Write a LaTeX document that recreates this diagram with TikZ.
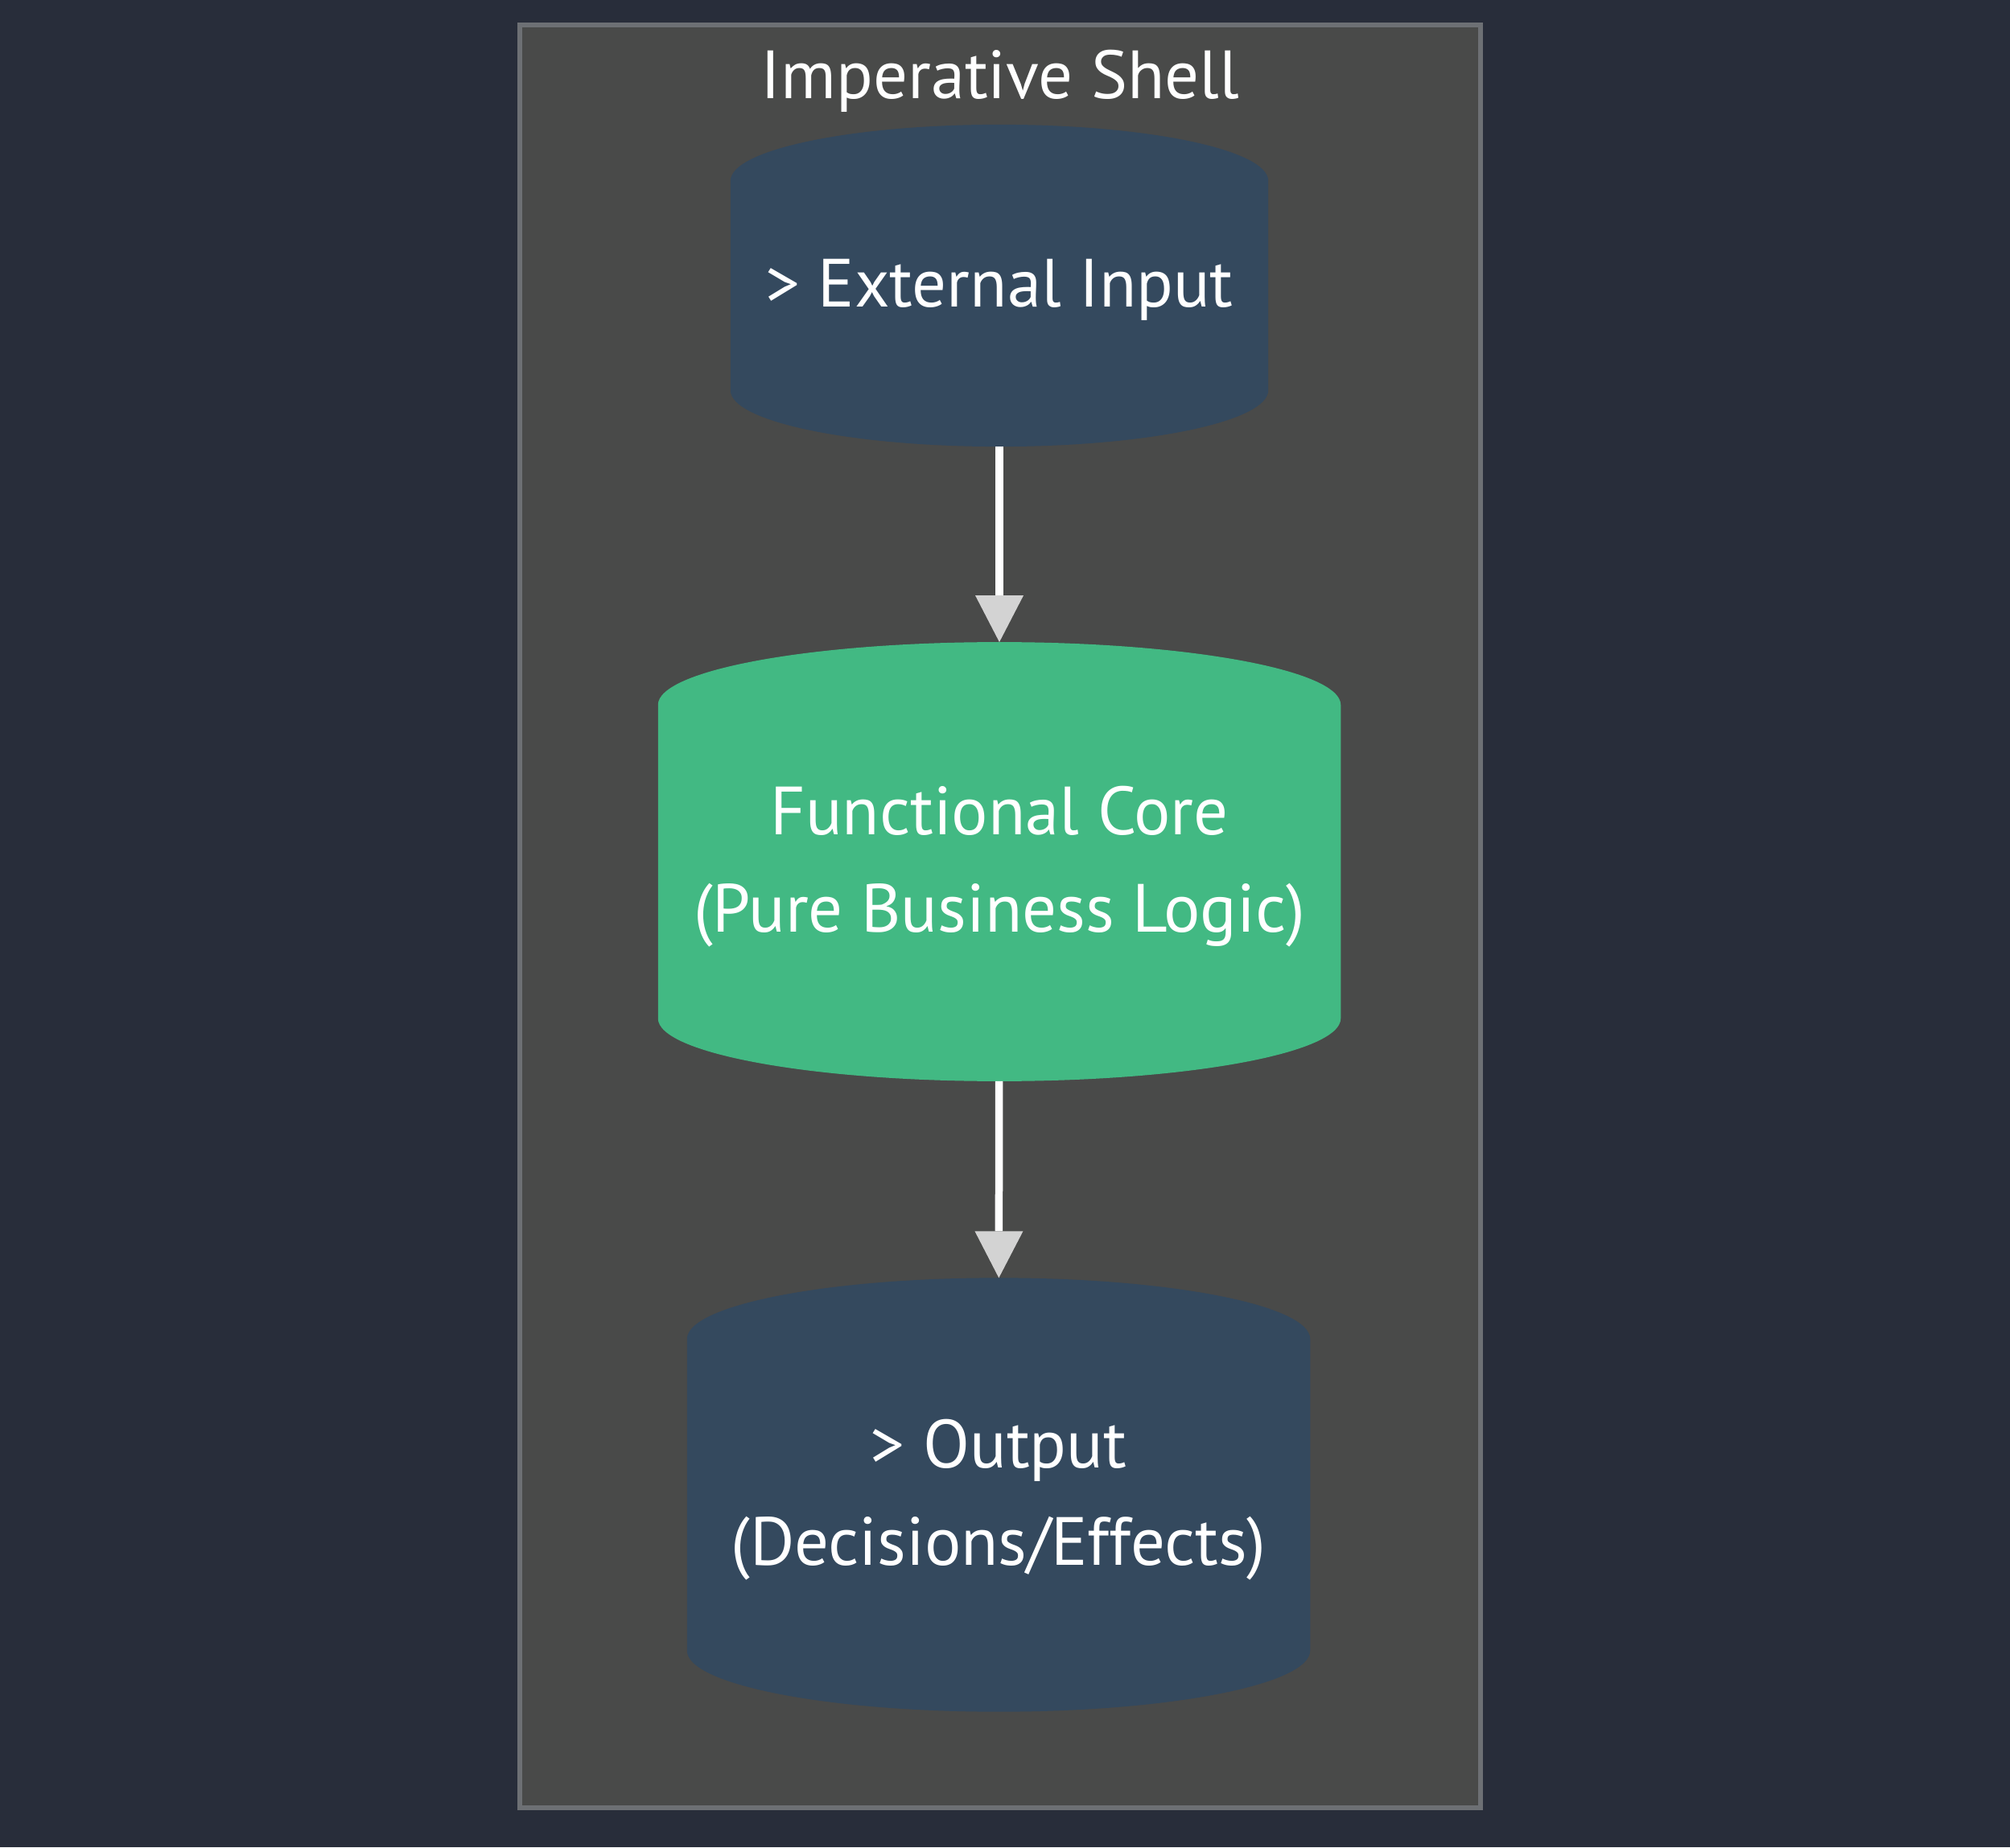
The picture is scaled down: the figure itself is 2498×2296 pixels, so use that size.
\documentclass[tikz,border=0pt]{standalone}
\usepackage{fontspec}
\setmainfont{PT Sans}
\usetikzlibrary{positioning,arrows.meta}

\definecolor{bgdark}{HTML}{282D3A}
\definecolor{shellgray}{HTML}{494A49}
\definecolor{shellline}{HTML}{6D7074}
\definecolor{asphalt}{HTML}{34495E}
\definecolor{coregreen}{HTML}{42B983}
\definecolor{headgray}{HTML}{D3D3D3}

\newcommand{\labelfont}{\fontsize{24.1}{34.4}\selectfont}

\tikzset{
  % fill colour, width, height, radius of the end ellipses
  store/.style n args={4}{rectangle,inner sep=0pt,outer sep=0pt,minimum width=#2,minimum height=#3,
    text=white,align=center,font=\labelfont,text depth=0.06cm,
    path picture={\fill[#1] ([yshift=-#4]path picture bounding box.north west)
      arc[start angle=180,end angle=0,x radius=#2/2,y radius=#4]
      -- ([yshift=#4]path picture bounding box.south east)
      arc[start angle=0,end angle=-180,x radius=#2/2,y radius=#4] -- cycle;}},
  flow/.style={draw=white,line width=2.7pt,-{Triangle[width=0.6cm,length=0.58cm,line width=0pt,color=headgray,fill=headgray]}}
}

\begin{document}
\begin{tikzpicture}[x=0.01cm,y=0.01cm]
\fill[bgdark] (0,0) rectangle (2498,2296);
\useasboundingbox (0,0) rectangle (2498,2296);
\draw[shellline,fill=shellgray,line width=1.5pt] (646,49) rectangle (1840,2265);
\node[text=white,anchor=base,font=\labelfont] (title) at (1243,2173) {Imperative Shell};

\node[store={asphalt}{6.68cm}{4cm}{0.7cm}] (ext) at (1242,1941) {> External Input};
\node[store={coregreen}{8.48cm}{5.455cm}{0.78cm}] (core) at (1242,1225) {Functional Core\\(Pure Business Logic)};
\node[store={asphalt}{7.74cm}{5.39cm}{0.76cm}] (out) at (1241,438) {> Output\\(Decisions/Effects)};

\draw[flow] (ext) -- (core);
\draw[flow] (core) -- (out);
\end{tikzpicture}
\end{document}
